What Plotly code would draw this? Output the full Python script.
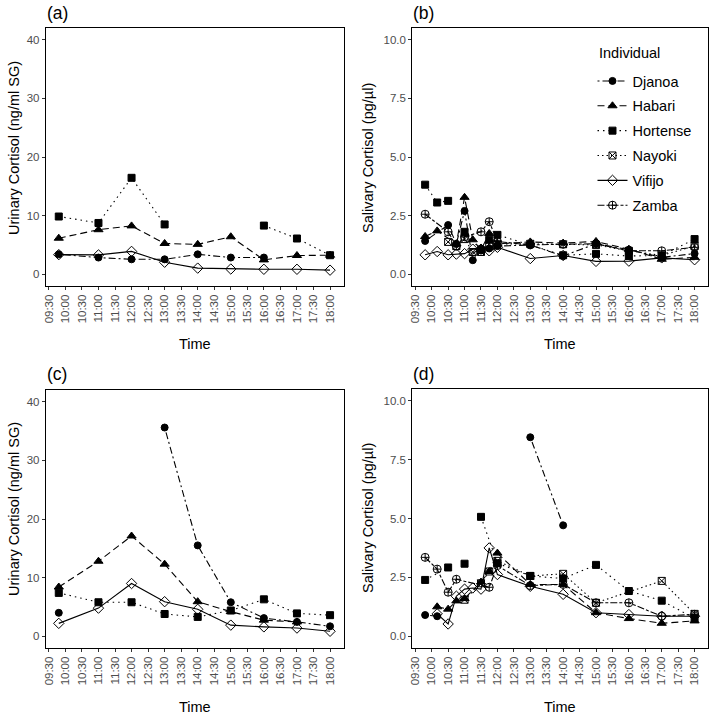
import plotly.graph_objects as go

# sampling clock times
urine_times = ["09:48", "11:00", "12:00", "13:00", "14:00", "15:00", "16:00", "17:00", "18:00"]
saliva_times = ["09:48", "10:10", "10:30", "10:45", "11:00", "11:15", "11:30", "11:45",
                "12:00", "13:00", "14:00", "15:00", "16:00", "17:00", "18:00"]
tick_labels = ["09:30", "10:00", "10:30", "11:00", "11:30", "12:00", "12:30", "13:00", "13:30",
               "14:00", "14:30", "15:00", "15:30", "16:00", "16:30", "17:00", "17:30", "18:00"]

GAP = float("nan")  # no sample and the line is broken here
# None = no sample, the line just joins the neighbours

# (a) urinary cortisol, ng/ml SG
a_djanoa = [3.4, 2.85, 2.55, 2.55, 3.4, 2.85, 2.85, None, None]
a_habari = [6.15, 7.6, 8.25, 5.25, 5.1, 6.4, 2.45, 3.2, 3.25]
a_hortense = [9.85, 8.75, 16.45, 8.5, GAP, None, 8.3, 6.1, 3.25]
a_vifijo = [3.35, 3.3, 3.9, 2.05, 1.05, 0.9, 0.85, 0.85, 0.7]

# (b) salivary cortisol, pg/ul
b_djanoa = [1.42, None, 2.1, 1.3, 2.7, 0.6, 1.1, 1.1, 1.2, 1.25, 0.78, 1.3, 1.05, 0.72, 0.88]
b_habari = [1.61, 1.85, None, 1.3, 3.28, 1.47, 1.05, 1.74, 1.3, 1.38, 1.33, 1.4, 1.07, 0.64, 0.72]
b_hortense = [3.82, 3.06, 3.13, GAP, 1.81, None, 1.03, 1.47, 1.68, None, 0.81, 0.87, 0.78, 0.8, 1.5]
b_nayoki = [None, None, 1.38, 1.2, 1.5, 0.95, 0.95, 1.3, 1.3, 1.3, 1.28, 1.25, 1.0, 0.8, 1.21]
b_vifijo = [0.83, 0.97, 0.83, 0.86, 0.88, 1.07, 1.07, 1.0, 1.15, 0.67, 0.8, 0.55, 0.56, 0.7, 0.62]
b_zamba = [2.56, None, 1.81, 1.2, 1.6, None, 1.81, 2.24, 1.4, 1.25, 1.28, 1.3, 1.0, 1.0, 1.15]

# (c) urinary cortisol, ng/ml SG
c_djanoa = [4.0, GAP, None, 35.6, 15.5, 5.8, 3.1, 2.45, 1.7]
c_habari = [8.4, 12.8, 17.1, 12.3, 5.9, 4.2, 2.75, 2.45, None]
c_hortense = [7.4, 5.8, 5.8, 3.8, 3.3, 4.4, 6.3, 3.9, 3.6]
c_vifijo = [2.2, 4.8, 9.0, 5.9, 4.6, 1.9, 1.6, 1.4, 0.85]

# (d) salivary cortisol, pg/ul
d_djanoa = [0.9, 0.85, GAP, None, None, None, None, None, None, 8.45, 4.71, None, None, None, None]
d_habari = [None, 1.25, 1.15, 1.5, 1.6, None, 2.3, 2.75, 3.53, 2.2, 2.2, 1.0, 0.75, 0.55, 0.65]
d_hortense = [2.39, None, 2.92, GAP, 3.08, GAP, 5.07, None, 3.1, 2.56, 2.45, 3.03, 1.92, 1.51, 0.76]
d_nayoki = [None, None, None, None, 1.55, None, 2.25, 2.75, 3.2, 2.56, 2.65, 1.42, None, 2.35, 0.95]
d_vifijo = [None, 0.95, 0.52, 1.7, 2.0, 2.05, 2.0, 3.75, 2.62, 2.12, 1.78, 1.0, 0.92, 0.85, 0.85]
d_zamba = [3.35, 2.85, 1.87, 2.42, None, None, None, 2.08, 3.0, 2.15, 2.2, 1.42, 1.42, 0.85, 0.93]

individuals = ["Djanoa", "Habari", "Hortense", "Nayoki", "Vifijo", "Zamba"]

# marker symbol, marker size, line dash
styles = {
    "Djanoa": ("circle", 7, "2px,3px,7px,3px"),
    "Habari": ("triangle-up", 8, "7px,4px"),
    "Hortense": ("square", 7, "1.5px,4px"),
    "Nayoki": ("square-x-open", 7, "1.5px,3px"),
    "Vifijo": ("diamond-open", 8, "solid"),
    "Zamba": ("circle-cross-open", 8, "7px,2px,3px,2px"),
}

panels = [
    ("x", "y", urine_times, {"Djanoa": a_djanoa, "Habari": a_habari, "Hortense": a_hortense, "Vifijo": a_vifijo}),
    ("x2", "y2", saliva_times, {"Djanoa": b_djanoa, "Habari": b_habari, "Hortense": b_hortense,
                                "Nayoki": b_nayoki, "Vifijo": b_vifijo, "Zamba": b_zamba}),
    ("x3", "y3", urine_times, {"Djanoa": c_djanoa, "Habari": c_habari, "Hortense": c_hortense, "Vifijo": c_vifijo}),
    ("x4", "y4", saliva_times, {"Djanoa": d_djanoa, "Habari": d_habari, "Hortense": d_hortense,
                                "Nayoki": d_nayoki, "Vifijo": d_vifijo, "Zamba": d_zamba}),
]

DAY = "2000-01-01 "
FONT = "Liberation Sans, Arial, sans-serif"
W, H = 709, 715

fig = go.Figure()

for xa, ya, times, series in panels:
    for name, vals in series.items():
        xs = [DAY + t for t, v in zip(times, vals) if v is not None]
        ys = [v for v in vals if v is not None]
        symbol, size, dash = styles[name]
        fig.add_trace(go.Scatter(
            x=xs, y=ys, xaxis=xa, yaxis=ya, name=name,
            mode="lines+markers",
            line=dict(color="black", width=1.1, dash=dash),
            marker=dict(symbol=symbol, size=size, color="black",
                        line=dict(color="black", width=1)),
            legendgroup=name, legendrank=individuals.index(name),
            showlegend=(xa == "x2"),
        ))


def px_x(p):
    return p / W


def px_y(p):
    return 1 - p / H


# plot areas in pixels: left, right, top, bottom
boxes = [(43, 342, 28, 286), (411, 708, 28, 286), (43, 342, 390, 648), (411, 708, 389, 648)]

xaxis_common = dict(
    type="date",
    range=[DAY + "09:24:30", DAY + "18:24:30"],
    tickvals=[DAY + t for t in tick_labels], ticktext=tick_labels,
    tickangle=-90, ticks="outside", ticklen=3, tickwidth=1, tickcolor="#333333",
    tickfont=dict(size=11.5, color="#4d4d4d", family=FONT),
    showline=True, mirror=True, linecolor="black", linewidth=1,
    showgrid=False, zeroline=False,
)
urine_y = dict(range=[-2, 42], tickvals=[0, 10, 20, 30, 40])
saliva_y = dict(range=[-0.5, 10.5], tickvals=[0, 2.5, 5, 7.5, 10], tickformat=".1f")

layout = {}
for i, (l, r, t, b) in enumerate(boxes):
    sfx = "" if i == 0 else str(i + 1)
    layout["xaxis" + sfx] = dict(xaxis_common, domain=[px_x(l), px_x(r)], anchor="y" + sfx)
    ydef = urine_y if i in (0, 2) else saliva_y
    layout["yaxis" + sfx] = dict(
        ydef, domain=[px_y(b), px_y(t)], anchor="x" + sfx,
        ticks="outside", ticklen=3, tickwidth=1, tickcolor="#333333",
        tickfont=dict(size=11.5, color="#4d4d4d", family=FONT),
        showline=True, mirror=True, linecolor="black", linewidth=1,
        showgrid=False, zeroline=False,
    )

annotations = []
for label, x, y in [("(a)", 42, 13), ("(b)", 410, 13), ("(c)", 42, 374), ("(d)", 410, 374)]:
    annotations.append(dict(text=label, x=px_x(x), y=px_y(y), xref="paper", yref="paper",
                            xanchor="left", yanchor="middle", showarrow=False,
                            font=dict(size=17.5, color="black", family=FONT)))
for x, y in [(192.5, 344), (559.5, 344), (192.5, 707), (559.5, 707)]:
    annotations.append(dict(text="Time", x=px_x(x), y=px_y(y), xref="paper", yref="paper",
                            xanchor="center", yanchor="middle", showarrow=False,
                            font=dict(size=14.5, color="black", family=FONT)))
for text, x, y in [("Urinary Cortisol (ng/ml SG)", 11, 148), ("Salivary Cortisol (pg/µl)", 366, 157.5),
                   ("Urinary Cortisol (ng/ml SG)", 11, 509), ("Salivary Cortisol (pg/µl)", 366, 517.5)]:
    annotations.append(dict(text=text, x=px_x(x), y=px_y(y), xref="paper", yref="paper",
                            xanchor="center", yanchor="middle", textangle=-90, showarrow=False,
                            font=dict(size=14.5, color="black", family=FONT)))
# legend title
annotations.append(dict(text="Individual", x=px_x(597), y=px_y(53), xref="paper", yref="paper",
                        xanchor="left", yanchor="middle", showarrow=False,
                        font=dict(size=14.5, color="black", family=FONT)))

fig.update_layout(
    **layout,
    annotations=annotations,
    width=W, height=H,
    margin=dict(l=0, r=0, t=0, b=0),
    paper_bgcolor="white", plot_bgcolor="white",
    font=dict(family=FONT, color="black"),
    legend=dict(
        x=px_x(592), y=px_y(65), xanchor="left", yanchor="top",
        bgcolor="rgba(0,0,0,0)", font=dict(size=14.5, family=FONT),
        tracegroupgap=3, itemwidth=30,
    ),
)

fig.write_html("out.html", config={"displayModeBar": False},
               post_script="document.body.style.margin='0';")
